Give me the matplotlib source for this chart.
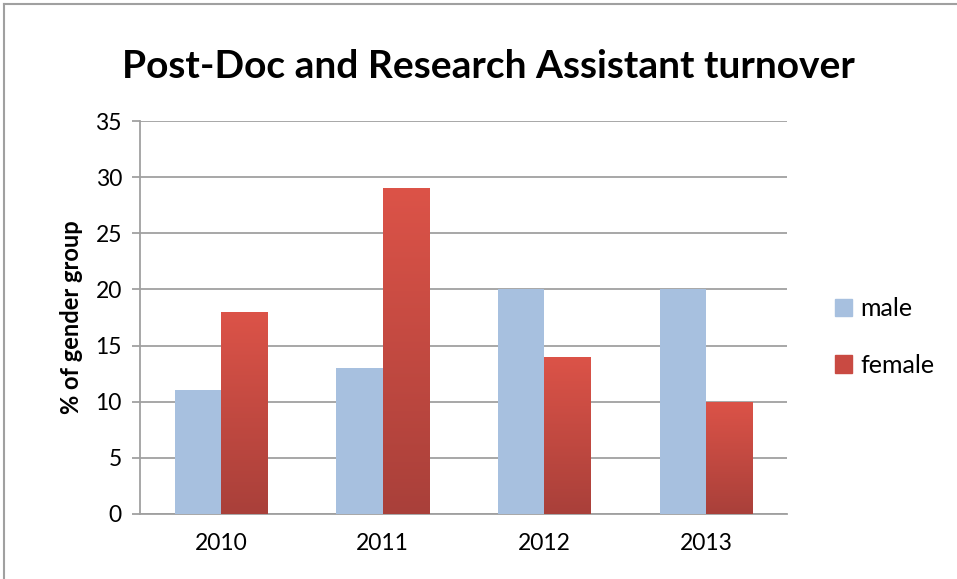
import numpy as np
import matplotlib.pyplot as plt
from matplotlib.colors import LinearSegmentedColormap
from matplotlib.patches import Rectangle
from matplotlib.lines import Line2D

years = ["2010", "2011", "2012", "2013"]
male = [11, 13, 20, 20]
female = [18, 29, 14, 10]

plt.rcParams['font.family'] = ['Lato', 'DejaVu Sans']

fig = plt.figure(figsize=(9.57, 5.79), dpi=100)
ax = fig.add_axes([140 / 957, 1 - 514 / 579, 647 / 957, (514 - 121) / 579])

male_color = "#a7c0df"
red_map = LinearSegmentedColormap.from_list("red", ["#a9403a", "#dc5348"])
grad = np.linspace(0, 1, 256).reshape(-1, 1)

x = np.arange(len(years))
w = 1 / 3.5
for i in range(len(years)):
    ax.bar(x[i] - w / 2, male[i], width=w, color=male_color, zorder=3)
    # female bar with vertical gradient
    x0 = x[i]
    bar = ax.bar(x0 + w / 2, female[i], width=w, color="none", zorder=3)[0]
    im = ax.imshow(grad, cmap=red_map, origin="lower", aspect="auto",
                   extent=[x0, x0 + w, 0, female[i]], zorder=3)
    im.set_clip_path(bar)

ax.set_xlim(-0.5, 3.5)
ax.set_ylim(0, 35)
ax.set_yticks(range(0, 36, 5))
ax.set_xticks(x)
ax.set_xticklabels(years)
ax.grid(axis="y", color="#a0a0a0", linewidth=1.3, zorder=0)
ax.tick_params(axis="y", length=6, width=1.3, color="#a0a0a0", pad=7, labelsize=16.5)
ax.tick_params(axis="x", length=0, pad=14, labelsize=16.5)
for s in ["top", "right"]:
    ax.spines[s].set_visible(False)
for s in ["left", "bottom"]:
    ax.spines[s].set_color("#a0a0a0")
    ax.spines[s].set_linewidth(1.3)

ax.set_ylabel("% of gender group", fontsize=17, fontweight="bold", labelpad=9)
fig.text(488 / 957, 1 - 67 / 579, "Post-Doc and Research Assistant turnover",
         fontsize=28, fontweight="bold", ha="center", va="center")

handles = [Rectangle((0, 0), 1, 1, color=male_color),
           Rectangle((0, 0), 1, 1, color="#c94a42")]
fig.legend(handles, ["male", "female"], loc="center left",
           bbox_to_anchor=(812 / 957, 1 - 337 / 579), frameon=False,
           fontsize=18, handlelength=0.7, handleheight=0.7, handletextpad=0.35,
           labelspacing=1.35)

# chart border (top and left edges visible)
fig.add_artist(Line2D([4 / 957, 1], [1 - 4 / 579, 1 - 4 / 579], color="#a0a0a0", lw=1.5))
fig.add_artist(Line2D([4 / 957, 4 / 957], [0, 1 - 4 / 579], color="#a0a0a0", lw=1.5))

fig.savefig("out.png", dpi=100)
